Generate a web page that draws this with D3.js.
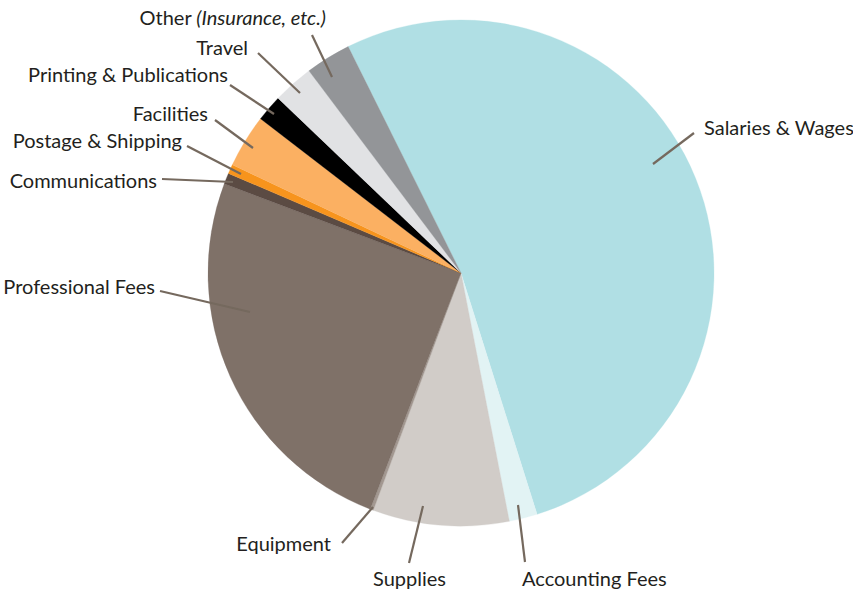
<!DOCTYPE html>
<html>
<head>
<meta charset="utf-8">
<script src="https://cdn.jsdelivr.net/npm/d3@7"></script>
<style>
  html, body { margin: 0; padding: 0; background: #ffffff; }
  svg { display: block; }
  text { font-family: Lato, "Open Sans", sans-serif; fill: #231f20; }
</style>
</head>
<body>
<svg id="chart" width="853" height="593"></svg>
<script>
// ---- data ----
const categories = ["Salaries & Wages", "Accounting Fees", "Supplies", "Equipment",
  "Professional Fees", "Communications", "Postage & Shipping", "Facilities",
  "Printing & Publications", "Travel", "Other"];
const shares = [52.5, 1.8, 8.7, 0.2, 24.9, 0.7, 0.6, 3.4, 1.7, 2.6, 2.9];
const colors = ["#b0dfe4", "#e2f3f4", "#d1ccc8", "#a39891", "#7f7168", "#5b4b43",
  "#f7941d", "#fbb062", "#000000", "#e1e2e4", "#939598"];

// ---- label layout (annotation placement, px) ----
const labelLayout = [
  { tx: 704, ty: 135, anchor: "start", line: [[653, 164], [694, 133]] },
  { tx: 522, ty: 586, anchor: "start", line: [[518, 505], [525, 562]] },
  { tx: 373, ty: 586, anchor: "start", line: [[423, 506], [409, 563]] },
  { tx: 331, ty: 551, anchor: "end",   line: [[373, 507], [342, 543]] },
  { tx: 155, ty: 294, anchor: "end",   line: [[250, 312], [160, 291]] },
  { tx: 157, ty: 188, anchor: "end",   line: [[233, 182], [162, 179]] },
  { tx: 182, ty: 148, anchor: "end",   line: [[241, 174], [187, 146]] },
  { tx: 208, ty: 121, anchor: "end",   line: [[253, 148], [215, 120]] },
  { tx: 228, ty: 82,  anchor: "end",   line: [[274, 114], [230, 85]] },
  { tx: 248, ty: 55,  anchor: "end",   line: [[300, 93], [258, 53]] },
  { tx: 326, ty: 25,  anchor: "end",   line: [[332, 77], [312, 35]] }
];

const svg = d3.select("#chart");
const cx = 461, cy = 273, R = 253;
const startA = -26.5 * Math.PI / 180;

const data = categories.map((c, i) => ({ name: c, value: shares[i], color: colors[i], i }));
const pie = d3.pie().value(d => d.value).sort(null)
  .startAngle(startA).endAngle(startA + 2 * Math.PI);
const arc = d3.arc().innerRadius(0).outerRadius(R);

const g = svg.append("g").attr("transform", `translate(${cx},${cy})`);
g.selectAll("path").data(pie(data)).join("path")
  .attr("d", arc)
  .attr("fill", d => d.data.color)
  .attr("stroke", d => d.data.color)
  .attr("stroke-width", 0.3);

// leader lines
svg.append("g").selectAll("line").data(labelLayout).join("line")
  .attr("x1", d => d.line[0][0]).attr("y1", d => d.line[0][1])
  .attr("x2", d => d.line[1][0]).attr("y2", d => d.line[1][1])
  .attr("stroke", "#75695e").attr("stroke-width", 2.2);

// labels
const lab = svg.append("g").selectAll("text").data(labelLayout).join("text")
  .attr("x", d => d.tx).attr("y", d => d.ty)
  .attr("text-anchor", d => d.anchor)
  .attr("font-size", 20);
lab.each(function(d, i) {
  const t = d3.select(this);
  if (categories[i] === "Other") {
    t.append("tspan").text("Other ");
    t.append("tspan").attr("font-style", "italic").text("(Insurance, etc.)");
  } else {
    t.text(categories[i]);
  }
});
</script>
</body>
</html>
